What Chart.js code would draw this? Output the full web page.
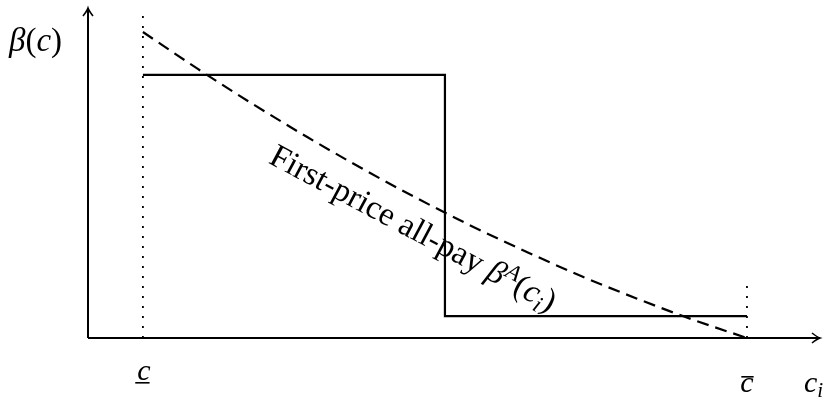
<!DOCTYPE html>
<html>
<head>
<meta charset="utf-8">
<script src="https://cdn.jsdelivr.net/npm/chart.js@4.4.1/dist/chart.umd.min.js"></script>
<style>
  html, body { margin: 0; padding: 0; background: #fff; }
  #wrap { width: 824px; height: 399px; }
</style>
</head>
<body>
<div id="wrap"><canvas id="bidChart" width="824" height="399"></canvas></div>
<script>
// cost axis (c_i) and bid axis (beta)
const cLow = 1;
const cHigh = 12;
const xMax = 13.33;
const yMax = 11;

// dashed curve: first-price all-pay bid beta^A(c_i)
const curveX = [1, 2, 3, 4, 5, 6, 7, 8, 9, 10, 11, 12];
const curveY = [10.2, 8.97, 7.8, 6.69, 5.64, 4.65, 3.72, 2.86, 2.05, 1.31, 0.62, 0];

// solid step bid
const stepX = [1, 6.5, 6.5, 12];
const stepY = [8.77, 8.77, 0.73, 0.73];

// dotted guides at c_low and c_high
const guideLowY = [0, 11];
const guideHighY = [0, 1.8];

const serif = '"Liberation Serif", "DejaVu Serif", serif';

function pts(xs, ys) {
    return xs.map((x, i) => ({ x: x, y: ys[i] }));
}

// draw a run of text pieces: [text, italic, sizeScale, dy]
function drawPieces(ctx, pieces, x, y, size) {
    let cx = x;
    pieces.forEach(p => {
        const s = size * (p[2] || 1);
        ctx.font = (p[1] ? 'italic ' : '') + s + 'px ' + serif;
        ctx.fillText(p[0], cx, y + (p[3] || 0));
        cx += ctx.measureText(p[0]).width;
    });
    return cx - x;
}

const axesPlugin = {
    id: 'axesPlugin',
    afterDatasetsDraw(chart) {
        const ctx = chart.ctx;
        const xs = chart.scales.x, ys = chart.scales.y;
        const x0 = xs.getPixelForValue(0), y0 = ys.getPixelForValue(0);
        const xEnd = xs.getPixelForValue(xMax), yEnd = ys.getPixelForValue(yMax);
        ctx.save();
        ctx.strokeStyle = '#000';
        ctx.lineWidth = 2;
        ctx.beginPath();
        ctx.moveTo(x0, y0); ctx.lineTo(xEnd, y0);
        ctx.moveTo(x0, y0); ctx.lineTo(x0, yEnd);
        ctx.stroke();
        ctx.lineWidth = 1.6;
        ctx.beginPath();
        ctx.moveTo(xEnd - 8, y0 - 5); ctx.quadraticCurveTo(xEnd - 3, y0 - 1, xEnd, y0);
        ctx.quadraticCurveTo(xEnd - 3, y0 + 1, xEnd - 8, y0 + 5);
        ctx.moveTo(x0 - 5, yEnd + 8); ctx.quadraticCurveTo(x0 - 1, yEnd + 3, x0, yEnd);
        ctx.quadraticCurveTo(x0 + 1, yEnd + 3, x0 + 5, yEnd + 8);
        ctx.stroke();

        ctx.fillStyle = '#000';
        ctx.textBaseline = 'alphabetic';
        ctx.textAlign = 'left';
        // y label
        drawPieces(ctx, [['\u03B2', true], ['(', false], ['c', true], [')', false]], 9, 51, 33);
        // c lower, underlined
        const xl = xs.getPixelForValue(cLow);
        ctx.font = 'italic 30px ' + serif;
        const cw = ctx.measureText('c').width;
        ctx.fillText('c', xl - cw / 2 + 1, 380);
        ctx.fillRect(xl - cw / 2 - 1, 382, cw + 1, 1.6);
        // c upper, with bar
        const xh = xs.getPixelForValue(cHigh);
        ctx.fillText('c', xh - cw / 2, 392);
        ctx.fillRect(xh - cw / 2 + 1, 376, cw - 1, 1.6);
        // c_i
        drawPieces(ctx, [['c', true], ['i', true, 0.7, 5]], 804, 392, 30);

        // curve label
        const lx = xs.getPixelForValue(3.27), ly = ys.getPixelForValue(5.85);
        ctx.translate(lx, ly);
        ctx.rotate(28 * Math.PI / 180);
        drawPieces(ctx, [
            ['First-price all-pay ', false],
            ['\u03B2', true],
            ['A', true, 0.7, -11],
            ['(', false],
            ['c', true],
            ['i', true, 0.7, 6],
            [')', false]
        ], 0, 0, 33);
        ctx.restore();
    }
};

new Chart(document.getElementById('bidChart').getContext('2d'), {
    type: 'scatter',
    data: {
        datasets: [
            {
                data: pts([cLow, cLow], guideLowY),
                showLine: true,
                borderColor: '#000',
                borderWidth: 1.8,
                borderDash: [2, 8],
                pointRadius: 0
            },
            {
                data: pts([cHigh, cHigh], guideHighY),
                showLine: true,
                borderColor: '#000',
                borderWidth: 1.8,
                borderDash: [2, 8],
                pointRadius: 0
            },
            {
                data: pts(stepX, stepY),
                showLine: true,
                borderColor: '#000',
                borderWidth: 2.2,
                pointRadius: 0
            },
            {
                data: pts(curveX, curveY),
                showLine: true,
                borderColor: '#000',
                borderWidth: 2.2,
                borderDash: [12, 7],
                cubicInterpolationMode: 'monotone',
                pointRadius: 0
            }
        ]
    },
    options: {
        responsive: false,
        animation: false,
        layout: { padding: { left: 88, right: 4, top: 8, bottom: 61 } },
        scales: {
            x: { type: 'linear', min: 0, max: xMax, display: false },
            y: { type: 'linear', min: 0, max: yMax, display: false }
        },
        plugins: {
            legend: { display: false },
            tooltip: { enabled: false }
        }
    },
    plugins: [axesPlugin]
});
</script>
</body>
</html>
